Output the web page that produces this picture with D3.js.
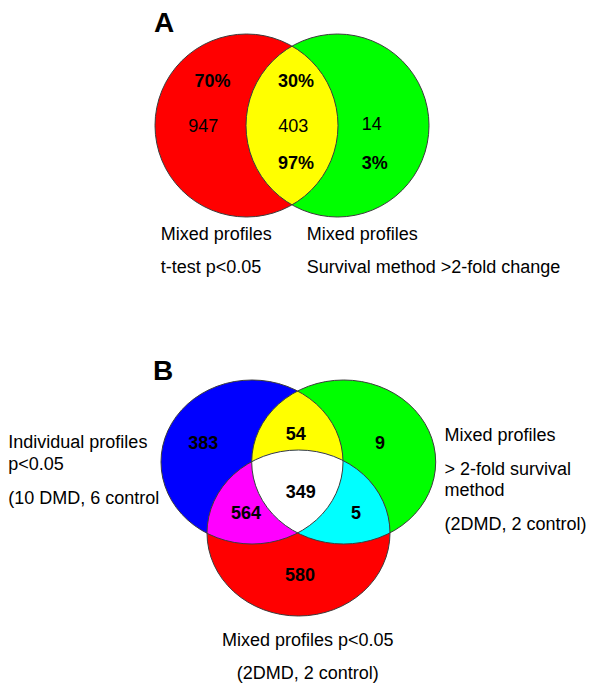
<!DOCTYPE html>
<html>
<head>
<meta charset="utf-8">
<script src="https://cdn.jsdelivr.net/npm/d3@7"></script>
<style>
  html, body { margin: 0; padding: 0; background: #ffffff; }
  svg { display: block; font-family: "Liberation Sans", Arial, sans-serif; }
</style>
</head>
<body>
<svg id="chart" width="593" height="686"></svg>
<script>
// ---- Panel A: two gene lists (mixed profiles) ----
const setsA = ["t-test p<0.05", "Survival method >2-fold change"];
const regionsA = ["t-test only", "both", "survival only"];
const countsA = [947, 403, 14];

// ---- Panel B: three gene lists ----
const setsB = ["Individual profiles p<0.05", "Mixed profiles >2-fold survival", "Mixed profiles p<0.05"];
const regionsB = ["individual only", "individual+survival", "survival only",
                  "individual+mixed", "all three", "survival+mixed", "mixed only"];
const countsB = [383, 54, 9, 564, 349, 5, 580];

// Set-label text lines
const labelA1 = ["Mixed profiles", "t-test p<0.05"];
const labelA2 = ["Mixed profiles", "Survival method >2-fold change"];
const labelB1 = ["Individual profiles", "p<0.05", "(10 DMD, 6 control"];
const labelB2 = ["Mixed profiles", "> 2-fold survival", "method", "(2DMD, 2 control)"];
const labelB3 = ["Mixed profiles p<0.05", "(2DMD, 2 control)"];

const svg = d3.select("#chart");
const defs = svg.append("defs");
const stroke = "#3c3c3c";
const pct = d3.format(".0%");

function vennLayer(g, shapes, id, colors, pairColors, tripleColor) {
  shapes.forEach((s, i) => {
    defs.append("clipPath").attr("id", id + i)
      .append("ellipse").attr("cx", s.cx).attr("cy", s.cy).attr("rx", s.rx).attr("ry", s.ry);
  });
  const ell = (sel, s) => sel.append("ellipse")
    .attr("cx", s.cx).attr("cy", s.cy).attr("rx", s.rx).attr("ry", s.ry);
  // single sets
  shapes.forEach((s, i) => ell(g, s).attr("fill", colors[i]));
  // pairwise overlaps
  pairColors.forEach(p => {
    ell(g.append("g").attr("clip-path", `url(#${id}${p.a})`), shapes[p.b]).attr("fill", p.color);
  });
  // triple overlap
  if (tripleColor) {
    const inner = g.append("g").attr("clip-path", `url(#${id}0)`)
      .append("g").attr("clip-path", `url(#${id}1)`);
    ell(inner, shapes[2]).attr("fill", tripleColor);
  }
  // outlines
  shapes.forEach(s => ell(g, s).attr("fill", "none").attr("stroke", stroke).attr("stroke-width", 1));
}

function textLines(g, lines, x, ys, anchor) {
  lines.forEach((t, i) => {
    g.append("text").attr("x", x).attr("y", ys[i]).attr("dy", "0.35em")
      .attr("text-anchor", anchor).attr("font-size", 18).attr("fill", "#000").text(t);
  });
}

function numLabel(g, x, y, txt, bold) {
  g.append("text").attr("x", x).attr("y", y).attr("dy", "0.35em")
    .attr("text-anchor", "middle").attr("font-size", 18)
    .attr("font-weight", bold ? "bold" : "normal").attr("fill", "#000").text(txt);
}

// ================= Panel A =================
const gA = svg.append("g");
const rA = 91.5;
const xA = d3.scaleLinear().domain([0, 1]).range([246.5, 337.5]);
const cyA = 125.5;
const shapesA = [0, 1].map(i => ({ cx: xA(i), cy: cyA, rx: rA, ry: rA }));
vennLayer(gA, shapesA, "clipA", ["#ff0000", "#00ff00"],
  [{ a: 0, b: 1, color: "#ffff00" }], null);

gA.append("text").attr("x", 154).attr("y", 32).attr("font-size", 28)
  .attr("font-weight", "bold").text("A");

const totA1 = countsA[0] + countsA[1];
const totA2 = countsA[1] + countsA[2];
numLabel(gA, 212.5, 81, pct(countsA[0] / totA1), true);
numLabel(gA, 203.3, 126, countsA[0], false);
numLabel(gA, 296, 81, pct(countsA[1] / totA1), true);
numLabel(gA, 293.3, 126, countsA[1], false);
numLabel(gA, 296, 163, pct(countsA[1] / totA2), true);
numLabel(gA, 371.7, 124, countsA[2], false);
numLabel(gA, 374.7, 162.5, pct(countsA[2] / totA2), true);

textLines(gA, labelA1, 160.7, [234, 266.7], "start");
textLines(gA, labelA2, 306.7, [234, 266.7], "start");

// ================= Panel B =================
const gB = svg.append("g");
const shapesB = [
  { cx: 252, cy: 462, rx: 91, ry: 82 },
  { cx: 343.7, cy: 462, rx: 92, ry: 82 },
  { cx: 298.5, cy: 533, rx: 91.5, ry: 83 }
];
vennLayer(gB, shapesB, "clipB", ["#0000ff", "#00ff00", "#ff0000"], [
  { a: 0, b: 1, color: "#ffff00" },
  { a: 0, b: 2, color: "#ff00ff" },
  { a: 1, b: 2, color: "#00ffff" }
], "#ffffff");

gB.append("text").attr("x", 153).attr("y", 380).attr("font-size", 28)
  .attr("font-weight", "bold").text("B");

const posB = [[203.3, 443], [295.7, 433.3], [380, 442.7], [246, 512.5],
              [300.7, 491.7], [356, 512.3], [300, 575]];
countsB.forEach((c, i) => numLabel(gB, posB[i][0], posB[i][1], c, true));

textLines(gB, labelB1, 8.3, [441.7, 464, 497.7], "start");
textLines(gB, labelB2, 444.4, [435, 468.3, 490, 524], "start");
textLines(gB, labelB3, 307.7, [640, 673], "middle");
</script>
</body>
</html>
